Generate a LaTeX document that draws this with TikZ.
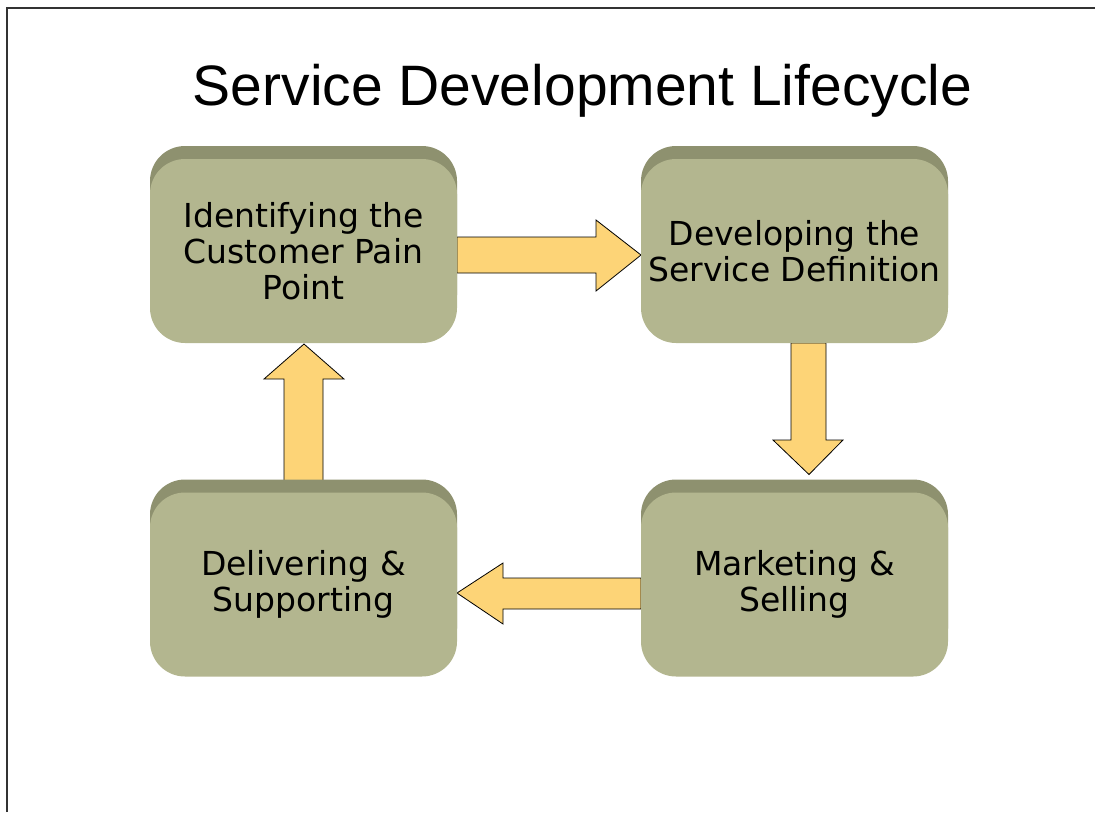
\documentclass[tikz,border=0pt]{standalone}
\usepackage{fontspec}
\newfontfamily\titlefont{Liberation Sans}
\newfontfamily\boxfont{DejaVu Sans}
\usetikzlibrary{calc,shadows,backgrounds}
\definecolor{olivefront}{HTML}{B3B68F}
\definecolor{olivetop}{HTML}{8E916F}
\definecolor{arrowfill}{HTML}{FDD477}
\begin{document}
\begin{tikzpicture}
  [x=1pt,y=-1pt,
   stage/.style={rectangle,rounded corners=35pt,fill=olivefront,
     minimum width=307pt,minimum height=184pt,inner sep=0pt,outer sep=0pt,
     align=center,font=\boxfont\fontsize{33}{36}\selectfont,
     copy shadow={shadow xshift=0pt,shadow yshift=13pt,fill=olivetop,draw=none}},
   blockarrow/.style={fill=arrowfill,draw=black,line width=0.8pt,line join=miter}]
  \useasboundingbox (0,0) rectangle (1095,812);
  \draw[line width=2pt,black!80] (7,812) -- (7,8) -- (1095,8);
  \node[font=\titlefont\fontsize{57}{60}\selectfont,anchor=base] (title) at (582.5,105) {Service Development Lifecycle};
  \node[stage] (pain) at (303.5,251) {Identifying the\\Customer Pain\\Point};
  \node[stage] (define) at (794.5,251) {Developing the\\Service Definition};
  \node[stage] (market) at (794.5,584.5) {Marketing \&\\Selling};
  \node[stage] (deliver) at (303.5,584.5) {Delivering \&\\Supporting};

  \begin{pgfonlayer}{background}
  \draw[blockarrow] ($(pain.east)+(0,-14)$) -- ($(define.west)+(-45,-14)$) -- ($(define.west)+(-45,-31)$)
        -- ($(define.west)+(0,4)$) -- ($(define.west)+(-45,40)$) -- ($(define.west)+(-45,22)$)
        -- ($(pain.east)+(0,22)$) -- cycle;
  \draw[blockarrow] ($(define.south)+(-3.5,0)$) -- ($(define.south)+(-3.5,97)$) -- ($(define.south)+(-21.5,97)$)
        -- ($(market.north)+(14.5,-18)$) -- ($(define.south)+(48.5,97)$) -- ($(define.south)+(31.5,97)$)
        -- ($(define.south)+(31.5,0)$) -- cycle;
  \draw[blockarrow] ($(market.west)+(0,-6.5)$) -- ($(deliver.east)+(46,-6.5)$) -- ($(deliver.east)+(46,-21.5)$)
        -- ($(deliver.east)+(0,8.5)$) -- ($(deliver.east)+(46,39.5)$) -- ($(deliver.east)+(46,24.5)$)
        -- ($(market.west)+(0,24.5)$) -- cycle;
  \draw[blockarrow] ($(deliver.north)+(-19.5,0)$) -- ($(pain.south)+(-19.5,36)$) -- ($(pain.south)+(-39.5,36)$)
        -- ($(pain.south)+(0.5,1)$) -- ($(pain.south)+(40.5,36)$) -- ($(pain.south)+(19.5,36)$)
        -- ($(deliver.north)+(19.5,0)$) -- cycle;
  \end{pgfonlayer}

\end{tikzpicture}
\end{document}
